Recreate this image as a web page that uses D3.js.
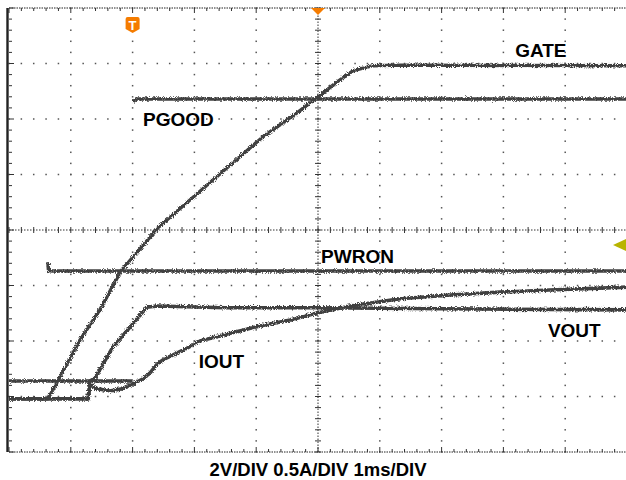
<!DOCTYPE html>
<html>
<head>
<meta charset="utf-8">
<script src="https://cdn.jsdelivr.net/npm/d3@7"></script>
<style>
  html, body { margin: 0; padding: 0; background: #fff; }
  svg { display: block; }
  text { font-family: "Liberation Sans", Arial, sans-serif; font-weight: bold; fill: #000; }
</style>
</head>
<body>
<svg id="chart" width="626" height="480"></svg>
<script>
// ---- data (time in ms, 1 ms/div; level in screen divisions from bottom) ----
const gateTime  = [0, 0.63, 0.79, 1.15, 1.47, 1.81, 2.12, 2.41, 3.04, 3.58, 4.11, 4.66, 4.98, 5.31, 5.57, 5.89, 6.33, 10];
const gateLevel = [0.96, 0.96, 1.28, 2.02, 2.56, 3.26, 3.66, 4.04, 4.65, 5.17, 5.68, 6.11, 6.38, 6.67, 6.87, 6.96, 6.97, 6.96];

const pgoodTime  = [0, 2.0, null, 2.0, 2.06, 2.2, 10];
const pgoodLevel = [1.28, 1.28, null, 6.31, 6.36, 6.36, 6.36];

const pwronTime  = [0.63, 0.64, 0.7, 10];
const pwronLevel = [3.42, 3.27, 3.26, 3.26];

const voutTime  = [0, 1.28, 1.31, 1.39, 1.68, 1.96, 2.23, 2.40, 3.5, 5.0, 7.0, 10];
const voutLevel = [0.96, 0.96, 1.28, 1.33, 1.89, 2.25, 2.61, 2.63, 2.60, 2.60, 2.58, 2.56];

const ioutTime  = [0, 1.28, 1.31, 1.39, 1.63, 1.83, 2.01, 2.17, 2.28, 2.40, 2.52, 2.69, 2.88, 3.09, 3.58, 4.06, 4.55, 5.0, 5.52, 6.33, 7.14, 7.95, 8.75, 10];
const ioutLevel = [0.96, 0.96, 1.23, 1.15, 1.10, 1.14, 1.23, 1.32, 1.42, 1.59, 1.68, 1.77, 1.87, 2.0, 2.14, 2.27, 2.38, 2.51, 2.63, 2.76, 2.83, 2.88, 2.92, 2.97];

const traceNames = ["GATE", "PGOOD", "PWRON", "VOUT", "IOUT"];
const labelTime  = [8.19, 2.17, 5.05, 8.72, 3.07];
const labelLevel = [7.12, 5.87, 3.41, 2.07, 1.51];

const caption = "2V/DIV 0.5A/DIV 1ms/DIV";
const triggerTime = 2.0;
const centerTime = 5.0;
const refLevel = 3.73;

// ---- scales ----
const svg = d3.select("#chart");
const x = d3.scaleLinear().domain([0, 10]).range([9, 627]);
const y = d3.scaleLinear().domain([0, 8]).range([452, 8]);

// noise filter for trace texture
const defs = svg.append("defs");
const f = defs.append("filter").attr("id", "noise")
  .attr("filterUnits", "userSpaceOnUse").attr("x", 0).attr("y", 0).attr("width", 626).attr("height", 480);
f.append("feTurbulence").attr("type", "fractalNoise").attr("baseFrequency", 1.1).attr("numOctaves", 2).attr("seed", 3).attr("result", "t");
f.append("feDisplacementMap").attr("in", "SourceGraphic").attr("in2", "t").attr("scale", 4.5).attr("xChannelSelector", "R").attr("yChannelSelector", "G");

const grid = svg.append("g");
const minorX = d3.range(0, 10.001, 0.2);
const minorY = d3.range(0, 8.001, 0.2);
const gridCol = "#555";

// dotted major grid lines (dots at minor positions)
d3.range(1, 10).filter(t => t !== 5).forEach(t => {
  grid.selectAll(null).data(minorY).enter().append("rect")
    .attr("x", x(t) - 0.75).attr("y", d => y(d) - 0.75).attr("width", 1.5).attr("height", 1.5).attr("fill", gridCol);
});
d3.range(1, 8).filter(v => v !== 4).forEach(v => {
  grid.selectAll(null).data(minorX).enter().append("rect")
    .attr("x", d => x(d) - 0.75).attr("y", y(v) - 0.75).attr("width", 1.5).attr("height", 1.5).attr("fill", gridCol);
});

// center crosshair
grid.append("line").attr("x1", x(0)).attr("x2", x(10)).attr("y1", y(4)).attr("y2", y(4))
  .attr("stroke", "#333").attr("stroke-width", 1).attr("stroke-dasharray", "1.5,1.5");
grid.append("line").attr("x1", x(5)).attr("x2", x(5)).attr("y1", y(0)).attr("y2", y(8))
  .attr("stroke", "#333").attr("stroke-width", 1).attr("stroke-dasharray", "1.5,1.5");
grid.selectAll(null).data(minorX).enter().append("line")
  .attr("x1", d => x(d)).attr("x2", d => x(d)).attr("y1", y(4) - 3).attr("y2", y(4) + 3)
  .attr("stroke", "#333").attr("stroke-width", 1);
grid.selectAll(null).data(minorY).enter().append("line")
  .attr("x1", x(5) - 3).attr("x2", x(5) + 3).attr("y1", d => y(d)).attr("y2", d => y(d))
  .attr("stroke", "#333").attr("stroke-width", 1);

// borders top / bottom
[8, 0].forEach(v => {
  grid.append("line").attr("x1", x(0)).attr("x2", x(10)).attr("y1", y(v)).attr("y2", y(v))
    .attr("stroke", "#222").attr("stroke-width", 1).attr("stroke-dasharray", "1.5,1");
  const dir = v === 8 ? 1 : -1;
  grid.selectAll(null).data(minorX).enter().append("line")
    .attr("x1", d => x(d)).attr("x2", d => x(d))
    .attr("y1", y(v)).attr("y2", d => y(v) + dir * (Math.abs(d - Math.round(d)) < 1e-6 ? 5 : 3))
    .attr("stroke", "#333").attr("stroke-width", 1);
});
// left border
grid.append("line").attr("x1", x(0) - 1.5).attr("x2", x(0) - 1.5).attr("y1", y(8)).attr("y2", y(0))
  .attr("stroke", "#222").attr("stroke-width", 2.4);
grid.selectAll(null).data(minorY).enter().append("line")
  .attr("x1", x(0)).attr("x2", d => x(0) + (Math.abs(d - Math.round(d)) < 1e-6 ? 5 : 3))
  .attr("y1", d => y(d)).attr("y2", d => y(d))
  .attr("stroke", "#333").attr("stroke-width", 1);

// ---- traces ----
const series = [
  [gateTime, gateLevel, 3.4],
  [pgoodTime, pgoodLevel, 3.4],
  [pwronTime, pwronLevel, 3.6],
  [voutTime, voutLevel, 3.6],
  [ioutTime, ioutLevel, 3.6]
];
const line = d3.line()
  .defined(d => d[0] != null && d[1] != null)
  .x(d => x(d[0])).y(d => y(d[1]));

const traces = svg.append("g").attr("filter", "url(#noise)");
series.forEach(([ts, vs, w]) => {
  traces.append("path")
    .attr("d", line(ts.map((t, i) => [t, vs[i]])))
    .attr("fill", "none").attr("stroke", "#404040").attr("stroke-width", w)
    .attr("stroke-linejoin", "round");
});

// ---- labels ----
svg.append("g").selectAll("text").data(traceNames).enter().append("text")
  .attr("x", (d, i) => x(labelTime[i])).attr("y", (d, i) => y(labelLevel[i]))
  .attr("font-size", 19).text(d => d);

svg.append("text").attr("x", x(5)).attr("y", 476).attr("text-anchor", "middle")
  .attr("font-size", 18.5).text(caption);

// ---- markers ----
const tx = x(triggerTime);
svg.append("path")
  .attr("d", `M${tx - 7},19 Q${tx - 7},17 ${tx - 5},17 L${tx + 5},17 Q${tx + 7},17 ${tx + 7},19 L${tx + 7},29 L${tx},33 L${tx - 7},29 Z`)
  .attr("fill", "#f57c00");
svg.append("text").attr("x", tx).attr("y", 29.5).attr("text-anchor", "middle")
  .attr("font-size", 13).style("fill", "#fff").text("T");

const cx = x(centerTime);
svg.append("path").attr("d", `M${cx - 7},8 L${cx + 7},8 L${cx},15 Z`).attr("fill", "#f57c00");

const ry = y(refLevel);
svg.append("path").attr("d", `M613,${ry} L626,${ry - 6} L626,${ry + 6} Z`).attr("fill", "#b8b400");
</script>
</body>
</html>
